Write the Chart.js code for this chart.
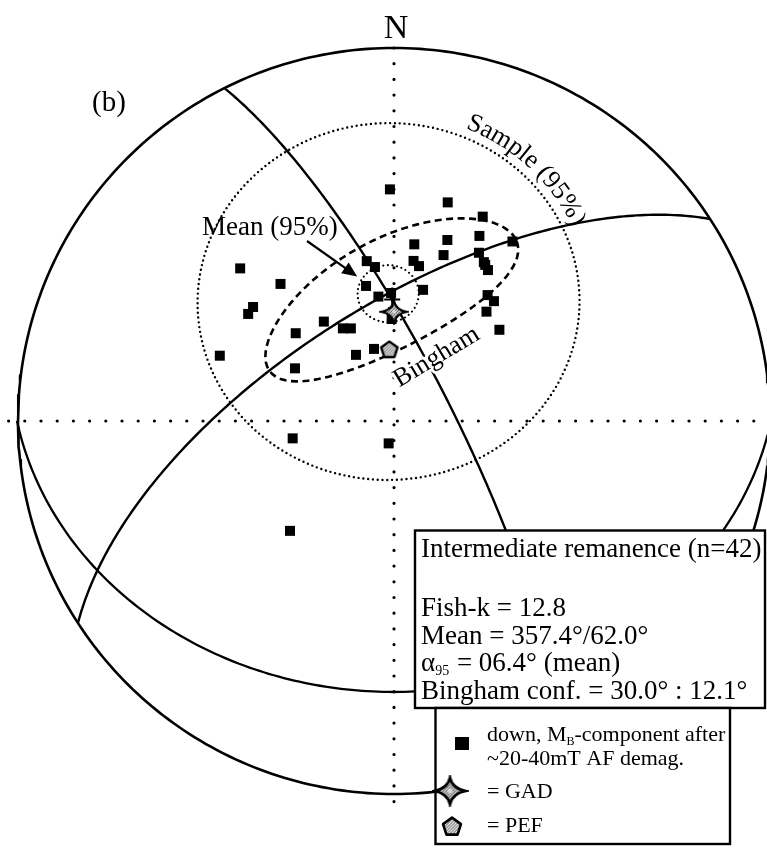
<!DOCTYPE html>
<html>
<head>
<meta charset="utf-8">
<script src="https://cdn.jsdelivr.net/npm/chart.js@4.4.0/dist/chart.umd.min.js"></script>
<style>
  html, body { margin: 0; padding: 0; background: #fff; }
  canvas { display: block; }
</style>
</head>
<body>
<canvas id="net" width="767" height="848" style="width:767px;height:848px"></canvas>
<script>
// ---- Intermediate remanence directions (declination / inclination, degrees, all down) ----
const sampleDec = [359.0, 13.7, 23.3, 33.2, 24.6, 16.3, 6.5, 16.5, 26.6, 29.3,
                   31.7, 6.9, 9.1, 350.4, 353.0, 348.4, 12.4, 352.9, 358.7, 344.6,
                   330.3, 331.3, 335.2, 325.0, 312.0, 298.2, 290.7, 320.6, 315.0, 309.2,
                   306.5, 36.4, 39.6, 40.0, 48.9, 260.2, 193.3, 223.2, 358.7, 359.5,
                   356.1, 30.1];
const sampleInc = [37.9, 39.5, 40.1, 42.0, 44.6, 48.1, 50.6, 51.7, 48.2, 49.6,
                   50.7, 54.4, 55.4, 54.2, 55.8, 59.7, 60.5, 62.5, 67.7, 73.7,
                   73.4, 66.9, 67.7, 63.4, 61.2, 65.6, 49.0, 50.7, 41.7, 50.0,
                   50.1, 55.5, 55.7, 58.6, 59.5, 67.7, 85.0, 56.8, 61.9, 66.2,
                   74.3, 50.0];

// reference directions
const gadDec = [0.0],   gadInc = [66.1];
const pefDec = [356.3], pefInc = [74.3];

// statistics
const fisherK = 12.8;
const meanDec = 357.4, meanInc = 62.0;
const alpha95 = 6.4;
const sampleCone = 40.8;           // sample 95% cone half-angle
const binghamConf = [30.0, 12.1];  // major : minor semi-angles

// Bingham axis great circles (strike, dip; right-hand rule)
const gcStrike = [333.2, 237.2];
const gcDip    = [77.7, 65.3];

// ---- equal-area (Schmidt) projection helpers ----
const D2R = Math.PI / 180;
function vecOf(dec, inc) {
  const c = Math.cos(inc * D2R);
  return [c * Math.sin(dec * D2R), c * Math.cos(dec * D2R), Math.sin(inc * D2R)];
}
function cross(a, b) { return [a[1]*b[2]-a[2]*b[1], a[2]*b[0]-a[0]*b[2], a[0]*b[1]-a[1]*b[0]]; }
function unit(a) { const l = Math.hypot(a[0], a[1], a[2]); return [a[0]/l, a[1]/l, a[2]/l]; }
function proj(v) {
  let [e, n, d] = v;
  if (d < 0) { e = -e; n = -n; d = -d; }
  const k = 1 / Math.sqrt(1 + d);
  return { x: e * k, y: n * k };
}
function projDir(dec, inc) { return proj(vecOf(dec, inc)); }

function greatCircle(strike, dip) {
  const s = [Math.sin(strike * D2R), Math.cos(strike * D2R), 0];
  const dd = (strike + 90) * D2R;
  const d = [Math.cos(dip * D2R) * Math.sin(dd), Math.cos(dip * D2R) * Math.cos(dd), Math.sin(dip * D2R)];
  const pts = [];
  for (let r = 0; r <= 180; r += 1) {
    const c = Math.cos(r * D2R), sn = Math.sin(r * D2R);
    pts.push(proj([c*s[0] + sn*d[0], c*s[1] + sn*d[1], c*s[2] + sn*d[2]]));
  }
  return { pts, pole: unit(cross(s, d)) };
}
// cone (circular or elliptical) around axis m, semi-angles a (along u) and b (along w)
function cone(m, a, b, u, w) {
  const pts = [];
  for (let i = 0; i <= 360; i += 2) {
    const f = i * D2R;
    const rho = a * b / Math.hypot(b * Math.cos(f), a * Math.sin(f)) * D2R;
    const c = Math.cos(rho), s = Math.sin(rho);
    const t = [Math.cos(f)*u[0] + Math.sin(f)*w[0], Math.cos(f)*u[1] + Math.sin(f)*w[1], Math.cos(f)*u[2] + Math.sin(f)*w[2]];
    pts.push(proj([c*m[0] + s*t[0], c*m[1] + s*t[1], c*m[2] + s*t[2]]));
  }
  return pts;
}

const meanVec = vecOf(meanDec, meanInc);
const gc1 = greatCircle(gcStrike[0], gcDip[0]);
const gc2 = greatCircle(gcStrike[1], gcDip[1]);
const axisU = unit(cross(gc2.pole, meanVec));   // along the major-axis great circle
const axisW = cross(meanVec, axisU);

const alphaPts   = cone(meanVec, alpha95, alpha95, axisU, axisW);
const samplePts  = cone(meanVec, sampleCone, sampleCone, axisU, axisW);
const binghamPts = cone(meanVec, binghamConf[0], binghamConf[1], axisU, axisW);

// primitive circle and lower frame arc
const primitive = [];
for (let t = 0; t <= 360; t += 1) primitive.push({ x: Math.cos(t * D2R), y: Math.sin(t * D2R) });
const arcCy = 0.1635, arcRx = 1.020, arcRy = 0.890;
const lowerArc = [];
{
  const t0 = Math.PI + Math.asin(arcCy / arcRy), t1 = 2 * Math.PI - Math.asin(arcCy / arcRy);
  for (let i = 0; i <= 200; i++) {
    const t = t0 + (t1 - t0) * i / 200;
    lowerArc.push({ x: arcRx * Math.cos(t), y: arcCy + arcRy * Math.sin(t) });
  }
}

// ---- symbol images ----
function stipple(base, dot) {
  const p = document.createElement('canvas'); p.width = 3; p.height = 3;
  const g = p.getContext('2d');
  g.fillStyle = base; g.fillRect(0, 0, 3, 3);
  g.fillStyle = dot; g.fillRect(0, 0, 1, 1); g.fillRect(2, 1, 1, 1); g.fillRect(1, 2, 1, 1);
  return p;
}
function makeStar(w, h, lw) {
  const c = document.createElement('canvas'); c.width = w; c.height = h;
  const g = c.getContext('2d');
  const cx = w / 2, cy = h / 2, rx = w / 2 - lw, ry = h / 2 - lw, k = Math.min(rx, ry) * 0.18;
  g.beginPath();
  g.moveTo(cx, cy - ry);
  g.quadraticCurveTo(cx + k, cy - k, cx + rx, cy);
  g.quadraticCurveTo(cx + k, cy + k, cx, cy + ry);
  g.quadraticCurveTo(cx - k, cy + k, cx - rx, cy);
  g.quadraticCurveTo(cx - k, cy - k, cx, cy - ry);
  g.closePath();
  g.fillStyle = g.createPattern(stipple('#c4c4c4', '#606060'), 'repeat');
  g.fill();
  g.lineWidth = lw; g.strokeStyle = '#000'; g.lineJoin = 'miter';
  g.stroke();
  g.fillStyle = 'rgba(255,255,255,0.6)';
  g.beginPath(); g.arc(cx, cy, Math.min(rx, ry) * 0.18, 0, 2 * Math.PI); g.fill();
  return c;
}
function makePent(size, lw) {
  const c = document.createElement('canvas'); c.width = size; c.height = size;
  const g = c.getContext('2d');
  const cx = size / 2, cy = size / 2 + 1, r = size / 2 - lw;
  g.beginPath();
  for (let i = 0; i < 5; i++) {
    const a = (-90 + i * 72) * D2R;
    const x = cx + r * Math.cos(a), y = cy + r * Math.sin(a);
    if (i === 0) g.moveTo(x, y); else g.lineTo(x, y);
  }
  g.closePath();
  g.fillStyle = g.createPattern(stipple('#a0a0a0', '#e4e4e4'), 'repeat');
  g.fill();
  g.lineWidth = lw; g.strokeStyle = '#000'; g.lineJoin = 'round';
  g.stroke();
  return c;
}
const starPlot = makeStar(30, 26, 2.2);
const starKey  = makeStar(37, 32, 2.6);
const pentPlot = makePent(22, 2.4);
const pentKey  = makePent(24, 2.6);

// ---- page geometry: centre and radii of the net in pixels ----
const W = 767, H = 848, CX = 394, CY = 421, RX = 376, RY = 373;

const SERIF = '"Liberation Serif", "DejaVu Serif", serif';

function lineSet(data, width, dash, cap) {
  return {
    type: 'scatter', data, showLine: true, pointRadius: 0, fill: false, tension: 0,
    borderColor: '#000', borderWidth: width, borderDash: dash || [],
    borderCapStyle: cap || 'butt', borderJoinStyle: 'round', clip: false
  };
}

const samplePoints = sampleDec.map((d, i) => projDir(d, sampleInc[i]));
const gadPoints = gadDec.map((d, i) => projDir(d, gadInc[i]));
const pefPoints = pefDec.map((d, i) => projDir(d, pefInc[i]));

const statLines = [
  `Fish-k = ${fisherK.toFixed(1)}`,
  `Mean = ${meanDec.toFixed(1)}°/${meanInc.toFixed(1)}°`,
  null, // alpha95 line (drawn with subscript)
  `Bingham conf. = ${binghamConf[0].toFixed(1)}° : ${binghamConf[1].toFixed(1)}°`
];

// walk text along a closed contour, outside it
function textOnContour(ctx, pts, text, startX, offset) {
  let cx = 0, cy = 0;
  pts.forEach(p => { cx += p.x; cy += p.y; });
  cx /= pts.length; cy /= pts.length;
  const arr = pts.map(p => {
    const dx = p.x - cx, dy = p.y - cy, L = Math.hypot(dx, dy);
    return { x: p.x + dx / L * offset, y: p.y + dy / L * offset, a: Math.atan2(dx, -dy) };
  }).sort((a, b) => a.a - b.a);
  let i0 = arr.findIndex(p => p.a >= 0 && p.x >= startX);
  const path = arr.slice(i0);
  const cum = [0];
  for (let i = 1; i < path.length; i++) cum.push(cum[i - 1] + Math.hypot(path[i].x - path[i - 1].x, path[i].y - path[i - 1].y));
  function at(s) {
    let i = 1;
    while (i < path.length - 1 && cum[i] < s) i++;
    const p0 = path[i - 1], p1 = path[i];
    const t = (s - cum[i - 1]) / Math.max(1e-6, cum[i] - cum[i - 1]);
    return { x: p0.x + (p1.x - p0.x) * t, y: p0.y + (p1.y - p0.y) * t, ang: Math.atan2(p1.y - p0.y, p1.x - p0.x) };
  }
  let s = 0;
  for (const ch of text) {
    const w = ctx.measureText(ch).width;
    const p = at(s + w / 2);
    ctx.save();
    ctx.translate(p.x, p.y);
    ctx.rotate(p.ang);
    ctx.fillText(ch, 0, 0);
    ctx.restore();
    s += w;
  }
}

function arrow(ctx, x0, y0, x1, y1, len, half, lw) {
  const a = Math.atan2(y1 - y0, x1 - x0);
  ctx.beginPath();
  ctx.moveTo(x0, y0);
  ctx.lineTo(x1 - Math.cos(a) * len * 0.7, y1 - Math.sin(a) * len * 0.7);
  ctx.lineWidth = lw; ctx.strokeStyle = '#000'; ctx.stroke();
  ctx.beginPath();
  ctx.moveTo(x1, y1);
  ctx.lineTo(x1 - Math.cos(a) * len - Math.sin(a) * half, y1 - Math.sin(a) * len + Math.cos(a) * half);
  ctx.lineTo(x1 - Math.cos(a) * len + Math.sin(a) * half, y1 - Math.sin(a) * len - Math.cos(a) * half);
  ctx.closePath();
  ctx.fillStyle = '#000'; ctx.fill();
}

const annotations = {
  id: 'annotations',
  afterDatasetsDraw(chart) {
    const ctx = chart.ctx;
    const xs = chart.scales.x, ys = chart.scales.y;
    const px = p => ({ x: xs.getPixelForValue(p.x), y: ys.getPixelForValue(p.y) });
    ctx.save();
    ctx.fillStyle = '#000';
    ctx.textAlign = 'left';
    ctx.textBaseline = 'alphabetic';

    // north label and panel letter
    ctx.font = '34px ' + SERIF;
    ctx.textAlign = 'center';
    ctx.fillText('N', xs.getPixelForValue(0) + 2, 38);
    ctx.font = '29px ' + SERIF;
    ctx.textAlign = 'left';
    ctx.fillText('(b)', 92, 111);

    // Sample (95%) label along the sample cone
    ctx.font = '26px ' + SERIF;
    ctx.textAlign = 'center';
    textOnContour(ctx, samplePts.map(px), 'Sample (95%)', 462, 9);

    // Mean (95%) label with arrow to the alpha95 circle
    const mPx = px(projDir(meanDec, meanInc));
    ctx.textAlign = 'left';
    ctx.font = '27px ' + SERIF;
    ctx.fillText('Mean (95%)', 202, 235);
    arrow(ctx, 307, 241, mPx.x - 31, mPx.y - 17, 15, 6.5, 2.2);

    // Bingham mean marker: small cross
    ctx.lineWidth = 2; ctx.strokeStyle = '#000';
    ctx.beginPath();
    ctx.moveTo(mPx.x + 4, mPx.y - 6); ctx.lineTo(mPx.x + 4, mPx.y + 14);
    ctx.moveTo(mPx.x - 4, mPx.y + 6); ctx.lineTo(mPx.x + 12, mPx.y + 6);
    ctx.stroke();

    // Bingham label
    ctx.save();
    ctx.translate(436, 356);
    ctx.rotate(-31 * D2R);
    ctx.font = '26px ' + SERIF;
    ctx.textAlign = 'center';
    ctx.lineWidth = 6; ctx.strokeStyle = '#fff'; ctx.lineJoin = 'round';
    ctx.strokeText('Bingham', 0, 8);
    ctx.fillText('Bingham', 0, 8);
    ctx.restore();

    // statistics box
    ctx.fillStyle = '#fff';
    ctx.fillRect(415, 530.5, 350, 177.5);
    ctx.lineWidth = 2.4; ctx.strokeStyle = '#000';
    ctx.strokeRect(415, 530.5, 350, 177.5);
    ctx.fillStyle = '#000';
    ctx.font = '27px ' + SERIF;
    ctx.textAlign = 'left';
    ctx.fillText('Intermediate remanence (n=' + sampleDec.length + ')', 421, 557);
    const base = [616, 644, 671, 699];
    statLines.forEach((t, i) => { if (t) ctx.fillText(t, 421, base[i]); });
    // alpha95 line with subscript
    let x = 421;
    ctx.fillText('α', x, base[2]);
    x += ctx.measureText('α').width;
    ctx.font = '14px ' + SERIF;
    ctx.fillText('95', x, base[2] + 4);
    x += ctx.measureText('95').width + 1;
    ctx.font = '27px ' + SERIF;
    ctx.fillText(` = ${alpha95.toFixed(1).padStart(4, '0')}° (mean)`, x, base[2]);

    // key box
    ctx.fillStyle = '#fff';
    ctx.fillRect(435.5, 708, 294.5, 136);
    ctx.strokeRect(435.5, 708, 294.5, 136);
    ctx.fillStyle = '#000';
    ctx.fillRect(455, 737, 14, 13);
    ctx.font = '22px ' + SERIF;
    x = 487;
    ctx.fillText('down, M', x, 741);
    x += ctx.measureText('down, M').width;
    ctx.font = '12px ' + SERIF;
    ctx.fillText('B', x, 745);
    x += ctx.measureText('B').width;
    ctx.font = '22px ' + SERIF;
    ctx.fillText('-component after', x, 741);
    ctx.fillText('~20-40mT AF demag.', 487, 765);
    ctx.drawImage(starKey, 450 - starKey.width / 2, 791 - starKey.height / 2);
    ctx.fillText('= GAD', 487, 798);
    ctx.drawImage(pentKey, 452 - pentKey.width / 2, 826 - pentKey.height / 2);
    ctx.fillText('= PEF', 487, 832);
    ctx.restore();
  }
};

new Chart(document.getElementById('net'), {
  type: 'scatter',
  data: {
    datasets: [
      { label: 'GAD', data: gadPoints, pointStyle: starPlot, pointRadius: 12, clip: false },
      { label: 'PEF', data: pefPoints, pointStyle: pentPlot, pointRadius: 10, clip: false },
      { label: 'Intermediate remanence', data: samplePoints, pointStyle: 'rect', pointRadius: 7.07,
        backgroundColor: '#000', borderColor: '#000', borderWidth: 0, clip: false },
      lineSet(alphaPts, 2.2, [0, 4.6], 'round'),
      lineSet(binghamPts, 2.6, [7, 4.5], 'butt'),
      lineSet(samplePts, 2.4, [0, 4.8], 'round'),
      lineSet(gc1.pts, 2.4),
      lineSet(gc2.pts, 2.4),
      lineSet(primitive, 2.6),
      lineSet(lowerArc, 2.3),
      lineSet([{ x: -1.025, y: 0 }, { x: (W - CX) / RX, y: 0 }], 3.2, [0, 16.2], 'round'),
      lineSet([{ x: 0, y: 1.0 }, { x: 0, y: -1.035 }], 3.2, [0, 15.7], 'round')
    ]
  },
  options: {
    responsive: false,
    animation: false,
    events: [],
    layout: { padding: 0, autoPadding: false },
    plugins: { legend: { display: false }, tooltip: { enabled: false }, title: { display: false } },
    scales: {
      x: { type: 'linear', display: false, min: -CX / RX, max: (W - CX) / RX },
      y: { type: 'linear', display: false, min: -(H - CY) / RY, max: CY / RY }
    }
  },
  plugins: [annotations]
});
</script>
</body>
</html>
